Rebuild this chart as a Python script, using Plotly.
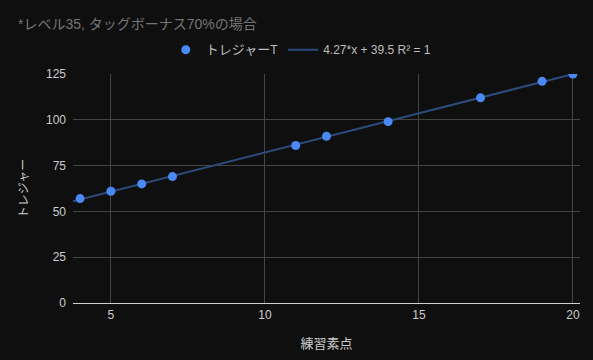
import numpy as np
import plotly.graph_objects as go

# Data
practice_score = [4, 5, 6, 7, 11, 12, 14, 17, 19, 20]
treasure = [57, 61, 65, 69, 86, 91, 99, 112, 121, 125]
title_text = "*レベル35, タッグボーナス70%の場合"
series_name = "<span style='font-size:13px'>トレジャー</span>T"
trend_label = "4.27*x + 39.5 R² = 1"
x_ticks = [5, 10, 15, 20]
y_ticks = [0, 25, 50, 75, 100, 125]

x_range = [3.77, 20.23]
y_range = [0, 125]

# Linear trendline from data
m, b = np.polyfit(practice_score, treasure, 1)
trend_x = np.array(x_range)
trend_y = m * trend_x + b

FONT = "Arial, 'Liberation Sans', 'Noto Sans CJK JP', sans-serif"
BG = "#0f0f0f"

fig = go.Figure()
fig.add_trace(go.Scatter(
    x=trend_x, y=trend_y, mode="lines", name=trend_label,
    line=dict(color="#2c4a7c", width=2), hoverinfo="skip",
))
fig.add_trace(go.Scatter(
    x=practice_score, y=treasure, mode="markers", name=series_name,
    marker=dict(color="#4a89f3", size=9),
))

fig.update_layout(
    width=593, height=360,
    paper_bgcolor=BG, plot_bgcolor=BG,
    margin=dict(l=73, r=13, t=74, b=57),
    font=dict(family=FONT, size=12, color="#cccccc"),
    title=dict(text=title_text, x=18/593, xanchor="left", y=1-24/360, yanchor="middle",
               font=dict(size=14, color="#757575", family=FONT)),
    legend=dict(orientation="h", x=0.183, xanchor="left", y=1.106, yanchor="middle",
                traceorder="reversed", font=dict(size=12, color="#bdbdbd"),
                bgcolor="rgba(0,0,0,0)"),
    showlegend=True,
    xaxis=dict(range=x_range, tickvals=x_ticks, showgrid=True, gridcolor="#444444",
               gridwidth=1, zeroline=False, showline=False, ticks="",
               ticklabelstandoff=3,
               tickfont=dict(size=12, color="#cccccc"),
               title=dict(text="練習素点", standoff=17, font=dict(size=13, color="#cccccc"))),
    yaxis=dict(range=y_range, tickvals=y_ticks, showgrid=True, gridcolor="#444444",
               gridwidth=1, zeroline=True, zerolinecolor="#d0d0d0", zerolinewidth=1.2,
               showline=False, ticks="", ticklabelstandoff=6,
               tickfont=dict(size=12, color="#cccccc"),
               title=dict(text="トレジャー", standoff=14, font=dict(size=12, color="#cccccc"))),
)

fig.write_html(
    "out.html",
    config={"displayModeBar": False},
    post_script="document.body.style.margin='0';document.body.style.background='#0f0f0f';",
)
